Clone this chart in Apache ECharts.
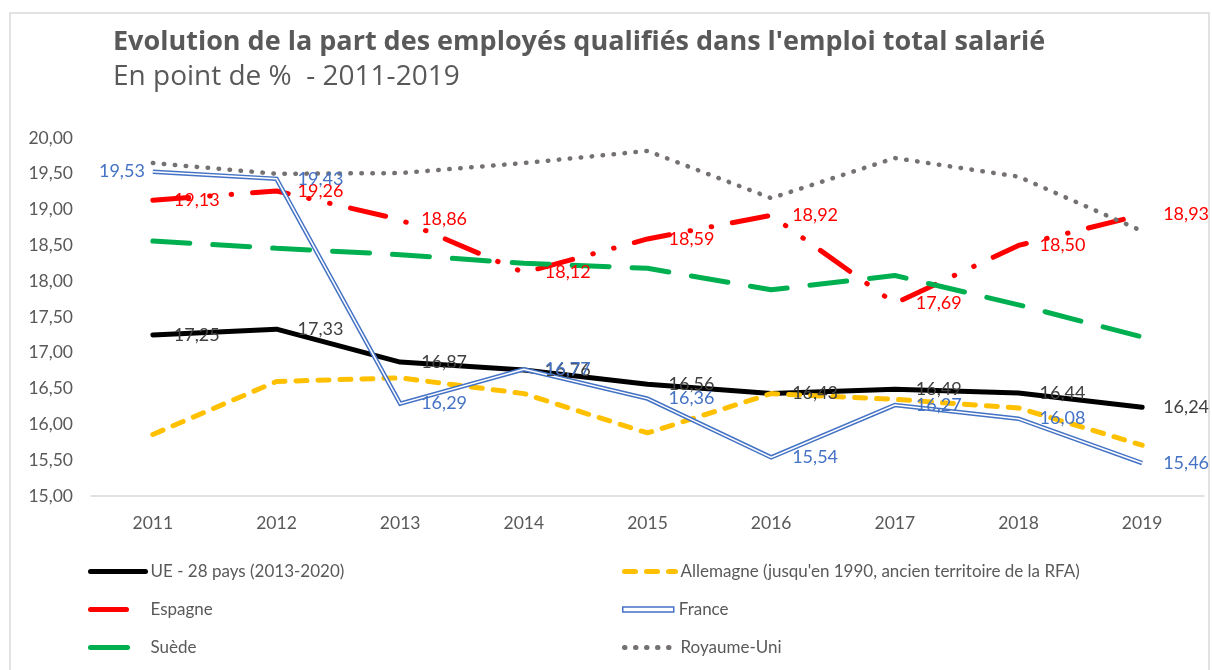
<!DOCTYPE html>
<html>
<head>
<meta charset="utf-8">
<script src="https://cdn.jsdelivr.net/npm/echarts@6/dist/echarts.min.js"></script>
<style>
  html, body { margin: 0; padding: 0; background: #fff; }
  #chart { width: 1212px; height: 670px; }
</style>
</head>
<body>
<div id="chart"></div>
<script>
const years = ['2011', '2012', '2013', '2014', '2015', '2016', '2017', '2018', '2019']
const ue = [17.25, 17.33, 16.87, 16.76, 16.56, 16.43, 16.49, 16.44, 16.24]
const allemagne = [15.86, 16.60, 16.65, 16.43, 15.88, 16.43, 16.35, 16.23, 15.71]
const espagne = [19.13, 19.26, 18.86, 18.12, 18.59, 18.92, 17.69, 18.50, 18.93]
const france = [19.53, 19.43, 16.29, 16.77, 16.36, 15.54, 16.27, 16.08, 15.46]
const suede = [18.56, 18.46, 18.37, 18.25, 18.18, 17.88, 18.08, 17.67, 17.22]
const royaumeUni = [19.65, 19.50, 19.51, 19.65, 19.82, 19.16, 19.72, 19.46, 18.70]

const FONT = 'Lato'
const GREY = '#595959'
const fmt = v => v.toFixed(2).replace('.', ',')

function valueLabel(color) {
  return {
    show: true,
    position: 'right',
    distance: 20,
    color: color,
    fontFamily: FONT,
    fontSize: 18,
    formatter: p => fmt(p.value)
  }
}

function legendAt(name, left, top, width, pad) {
  return {
    data: [name],
    left: left,
    top: top,
    itemWidth: width,
    itemHeight: 5,
    selectedMode: false,
    itemStyle: { opacity: 0 },
    lineStyle: { width: 5 },
    textStyle: {
      color: GREY,
      fontFamily: FONT,
      fontSize: 17,
      padding: [0, 0, 0, pad]
    }
  }
}

// line series with transparent symbols so the value labels can show
function lineSeries(name, data, lineStyle, label) {
  return {
    name: name,
    type: 'line',
    data: data,
    symbol: 'circle',
    symbolSize: 2,
    showSymbol: true,
    itemStyle: { color: 'transparent' },
    lineStyle: lineStyle,
    label: label || { show: false }
  }
}

const chart = echarts.init(document.getElementById('chart'))

const option = {
  animation: false,
  backgroundColor: '#fff',
  title: {
    text: "Evolution de la part des employés qualifiés dans l'emploi total salarié",
    subtext: 'En point de %  - 2011-2019',
    left: 108,
    top: 24,
    itemGap: 7,
    textStyle: { color: GREY, fontFamily: 'Open Sans', fontSize: 27, fontWeight: 'bold' },
    subtextStyle: { color: GREY, fontFamily: 'Open Sans', fontSize: 28 }
  },
  graphic: [{
    type: 'rect',
    z: -10,
    shape: { x: 10, y: 13, width: 1199, height: 700 },
    style: { fill: 'none', stroke: '#d9d9d9', lineWidth: 1.5 }
  }],
  legend: [
    legendAt('UE - 28 pays (2013-2020)', 83, 558, 55, 0),
    legendAt('Espagne', 83, 596, 39, 16),
    legendAt('Suède', 83, 634, 39, 16),
    legendAt("Allemagne (jusqu'en 1990, ancien territoire de la RFA)", 617, 558, 51, 0),
    legendAt({
      name: 'France',
      icon: 'rect',
      itemStyle: { color: '#fff', borderColor: '#4472C4', borderWidth: 1.5, opacity: 1 }
    }, 617, 596, 51, 0),
    legendAt('Royaume-Uni', 617, 634, 51, 0)
  ],
  grid: {
    left: 91,
    right: 8,
    top: 138,
    bottom: 174
  },
  xAxis: {
    type: 'category',
    data: years,
    boundaryGap: true,
    axisLine: { lineStyle: { color: '#d9d9d9', width: 1.5 } },
    axisTick: { show: false },
    axisLabel: { color: GREY, fontFamily: FONT, fontSize: 17.5, margin: 18 }
  },
  yAxis: {
    type: 'value',
    min: 15,
    max: 20,
    interval: 0.5,
    splitLine: { show: false },
    axisLine: { show: false },
    axisTick: { show: false },
    axisLabel: { color: GREY, fontFamily: FONT, fontSize: 17.5, margin: 18, formatter: v => fmt(v) }
  },
  series: [
    lineSeries('UE - 28 pays (2013-2020)', ue,
      { color: '#000', width: 5, cap: 'round', join: 'round' }, valueLabel('#404040')),
    lineSeries("Allemagne (jusqu'en 1990, ancien territoire de la RFA)", allemagne,
      { color: '#FFC000', width: 5, type: [11, 11], cap: 'round' }),
    lineSeries('Espagne', espagne,
      { color: '#FF0000', width: 5, type: [36, 21, 0.5, 21, 0.5, 21], cap: 'round' }, valueLabel('#FF0000')),
    lineSeries('France',
      france.map((v, i) => i === 0 ? { value: v, label: { position: 'left', distance: 7 } } : v),
      { color: '#4472C4', width: 4.5, join: 'miter' }, valueLabel('#4472C4')),
    // white core of France's double line
    lineSeries('France-inner', france, { color: '#fff', width: 1.5, join: 'miter' }),
    lineSeries('Suède', suede,
      { color: '#00B050', width: 5, type: [37, 23], cap: 'round' }),
    lineSeries('Royaume-Uni', royaumeUni,
      { color: '#767171', width: 4.5, type: [0.5, 10.5], cap: 'round' })
  ]
}

chart.setOption(option)
</script>
</body>
</html>
